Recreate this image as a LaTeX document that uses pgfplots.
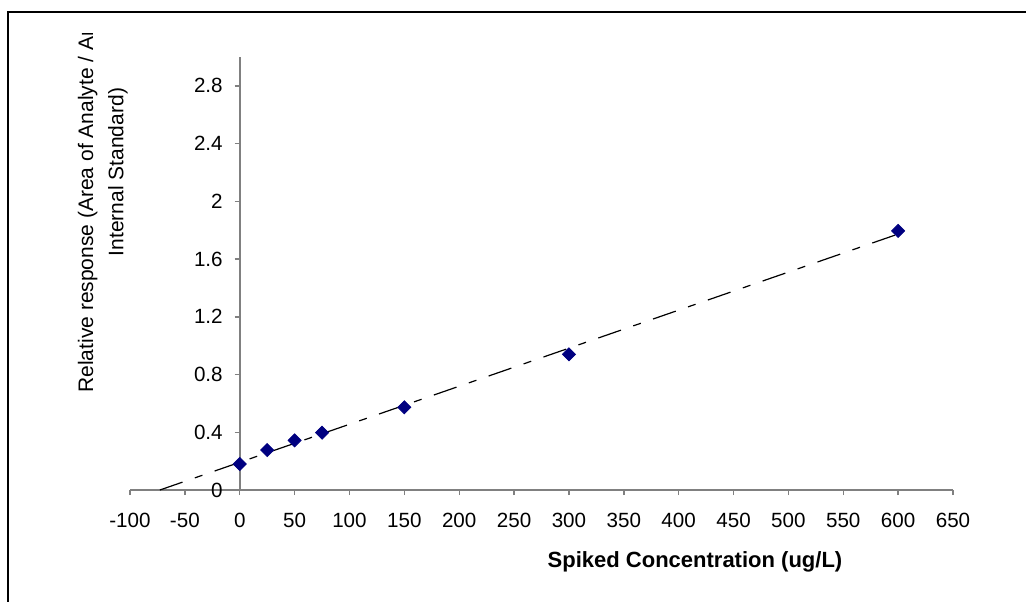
\documentclass[border=0pt]{standalone}
\usepackage{fontspec}
\setmainfont{Liberation Sans}
\usepackage{pgfplots}
\pgfplotsset{compat=1.18}
\definecolor{navy}{RGB}{0,0,128}
\definecolor{axgray}{RGB}{128,128,128}
\begin{document}
\begin{tikzpicture}
\begin{axis}[
  at={(0,0)}, anchor=south west,
  scale only axis, width=411.5pt, height=216.5pt,
  xmin=-100, xmax=650, ymin=0, ymax=3,
  axis lines*=middle,
  axis line style={draw=axgray, line width=0.9pt},
  tick style={draw=axgray, line width=0.7pt},
  tick align=outside, major tick length=2.5pt,
  hide obscured x ticks=false, hide obscured y ticks=false,
  xtick={-100,-50,0,50,100,150,200,250,300,350,400,450,500,550,600,650},
  ytick={0,0.4,0.8,1.2,1.6,2,2.4,2.8},
  /pgf/number format/assume math mode=true,
  tick label style={font=\fontsize{10.3}{12}\selectfont},
  xticklabel style={yshift=-5.5pt},
  yticklabel style={xshift=-2.5pt},
  xlabel={\textbf{Spiked Concentration (ug/L)}},
  xlabel style={at={(rel axis cs:0.6865,0)}, anchor=base, yshift=-38.5pt, font=\fontsize{11}{13}\selectfont, inner sep=0pt},
  clip=false,
]
\addplot[black, line width=0.6pt, dash pattern=on 12pt off 6.5pt on 4pt off 6.5pt] coordinates {(-72.8,0) (600,1.7734)};
\addplot[only marks, mark=square*, mark size=2.3pt, mark options={rotate=45, fill=navy, draw=navy}] coordinates {
(0,0.180) (25,0.277) (50,0.344) (75,0.397) (150,0.573) (300,0.940) (600,1.795)};
\end{axis}
\begin{scope}
\clip (-65pt,-60pt) rectangle (448pt,228.5pt);
\node[rotate=90, anchor=base west, inner sep=0pt, font=\fontsize{10.5}{12}\selectfont] at (-18.4pt,48.5pt) {Relative response (Area of Analyte / Area of};
\node[rotate=90, anchor=base, inner sep=0pt, font=\fontsize{10.5}{12}\selectfont] at (-3.3pt,159pt) {Internal Standard)};
\end{scope}
\draw[black, line width=1pt] (-61pt,-60pt) -- (-61pt,239pt) -- (450pt,239pt);
\pgfresetboundingbox
\path[use as bounding box] (-65pt,-55.5pt) rectangle (448pt,245pt);
\end{tikzpicture}
\end{document}
